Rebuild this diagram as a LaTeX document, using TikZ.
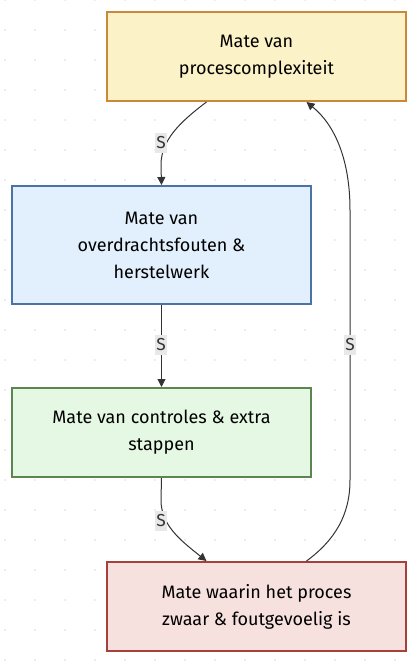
\documentclass[tikz,border=0pt]{standalone}
\usepackage{fontspec}
\setmainfont{Fira Sans}
\usepackage{tikz}
\usetikzlibrary{calc, positioning, arrows.meta}
\definecolor{boxyellow}{HTML}{FCF2C8}
\definecolor{lineyellow}{HTML}{C8893A}
\definecolor{boxblue}{HTML}{E2EFFC}
\definecolor{lineblue}{HTML}{4C73A6}
\definecolor{boxgreen}{HTML}{E5F8E3}
\definecolor{linegreen}{HTML}{5B8551}
\definecolor{boxred}{HTML}{F7E1DF}
\definecolor{linered}{HTML}{A6403A}
\definecolor{edgegrey}{HTML}{333333}
\definecolor{labelgrey}{HTML}{E8E8E8}

\begin{document}
\begin{tikzpicture}[x=0.75pt, y=-0.75pt,
    matebox/.style={draw, line width=1.5pt, minimum width=224pt, align=center,
        font=\fontsize{13.5}{20.25}\selectfont, text=black, inner sep=0pt},
    link/.style={draw=edgegrey, line width=0.75pt, -{Triangle[length=6pt, width=6pt]}},
    slabel/.style={fill=labelgrey, inner xsep=1pt, inner ysep=3pt, font=\fontsize{13}{14}\selectfont, text=edgegrey}]
        \useasboundingbox (0,0) rectangle (417,662);

        % dotted backdrop
        \foreach \gx in {5,35,...,415}
            \foreach \gy in {0,30,...,660}
                \fill[black!14] (\gx,\gy) circle (0.6pt);

        \node[matebox, fill=boxyellow, draw=lineyellow, minimum height=66.75pt] (Complex) at (256.5,56.5) {Mate van\\procescomplexiteit};
        \node[matebox, fill=boxblue, draw=lineblue, minimum height=88.5pt] (Overdracht) at (161.5,245) {Mate van\\overdrachtsfouten \&\\herstelwerk};
        \node[matebox, fill=boxgreen, draw=linegreen, minimum height=66.75pt] (Controle) at (161.5,432.5) {Mate van controles \& extra\\stappen};
        \node[matebox, fill=boxred, draw=linered, minimum height=66.75pt] (Zwaar) at (256.5,606.5) {Mate waarin het proces\\zwaar \& foutgevoelig is};

        \draw[link] ($(Complex.south)+(-50,0)$) .. controls (180,122) and (161,140) .. (161,165) -- (Overdracht.north);
        \draw[link] (Overdracht.south) -- (Controle.north);
        \draw[link] (Controle.south) -- (161,500) .. controls (161,525) and (180,540) .. ($(Zwaar.north)+(-50,0)$);
        \draw[link] ($(Zwaar.north)+(50,0)$) .. controls (335,540) and (350,515) .. (350,480) -- (350,210) .. controls (350,160) and (335,125) .. ($(Complex.south)+(50,0)$);

        \node[slabel] (S1) at (161,143) {S};
        \node[slabel] (S2) at (161,345) {S};
        \node[slabel] (S3) at (161,521) {S};
        \node[slabel] (S4) at (350,345) {S};
    \end{tikzpicture}
\end{document}
